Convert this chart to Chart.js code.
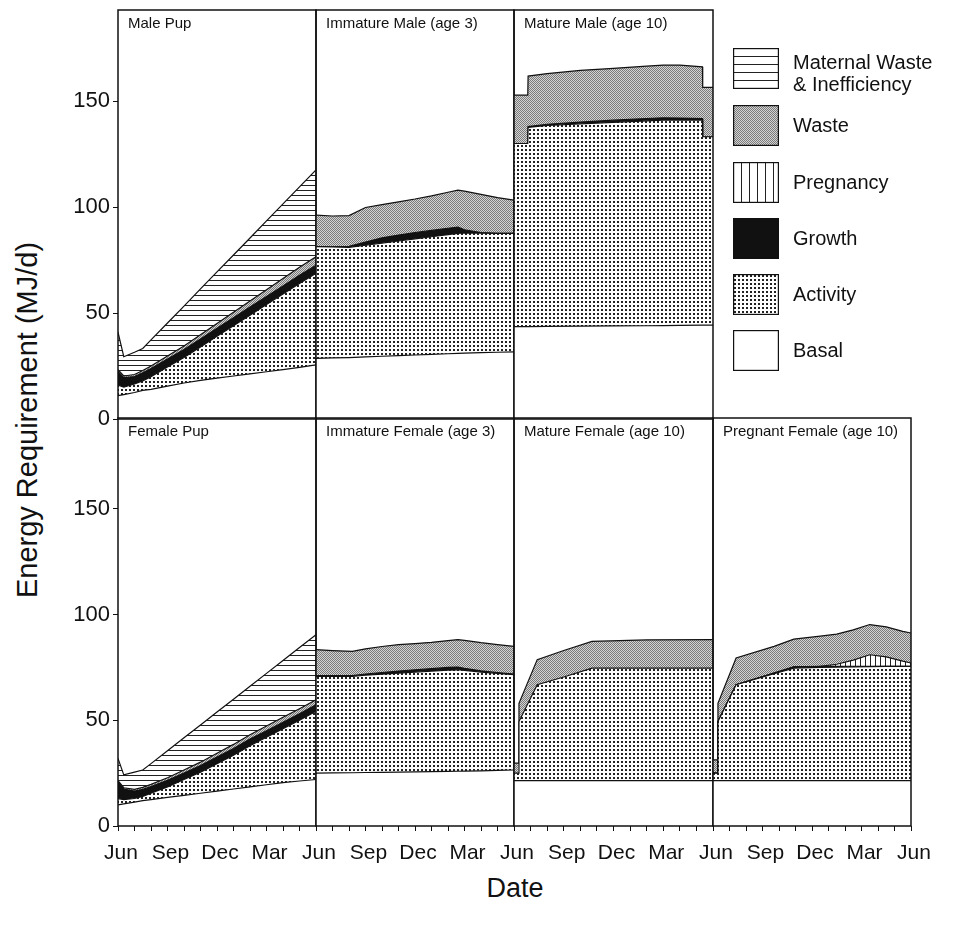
<!DOCTYPE html>
<html>
<head>
<meta charset="utf-8">
<script src="https://cdn.jsdelivr.net/npm/chart.js@4.4.1/dist/chart.umd.min.js"></script>
<style>
  body { margin: 0; background: #fff; font-family: "Liberation Sans", Arial, sans-serif; color: #111; }
  #wrap { position: relative; width: 955px; height: 931px; overflow: hidden; background: #fff; }
  #wrap canvas.panel { position: absolute; left: 0; top: 0; }
  .ptitle { position: absolute; font-size: 15px; white-space: nowrap; line-height: 18px; }
  .ytitle { position: absolute; left: 27px; top: 420px; transform: translate(-50%, -50%) rotate(-90deg); font-size: 29px; white-space: nowrap; }
  .xtitle { position: absolute; left: 515px; top: 888px; transform: translate(-50%, -50%); font-size: 27px; }
  .lgbox { position: absolute; }
  .lgtext { position: absolute; font-size: 20px; line-height: 22px; white-space: nowrap; }
</style>
</head>
<body>
<div id="wrap">
  <div class="ytitle">Energy Requirement (MJ/d)</div>
  <div class="xtitle">Date</div>
</div>
<script>
// month offsets from June (0 = Jun, 12 = next Jun), values in MJ/d per component

// Male Pup
const malePupMonths = [0, 0.35, 1, 1.5, 2, 3, 4, 5, 6, 7, 8, 9, 10, 11, 12];
const malePupBasal = [11, 11.5, 12.5, 13.5, 14, 15.5, 17, 18.2, 19.3, 20.3, 21.3, 22.3, 23.3, 24.4, 25.5];
const malePupActivity = [5, 3.5, 4, 4.5, 6, 9, 12, 15.8, 19.7, 23.7, 27.7, 31.7, 35.7, 39.6, 43.3];
const malePupGrowth = [6.5, 4.5, 3.5, 3.8, 3.8, 3.8, 3.8, 3.8, 3.8, 3.8, 3.8, 3.8, 3.8, 3.8, 3.8];
const malePupWaste = [0.8, 0.8, 1, 1.1, 1.2, 1.4, 1.7, 2, 2.3, 2.6, 2.9, 3.2, 3.5, 3.8, 4];
const malePupMaternal = [17.7, 9.1, 10.5, 10.4, 12.3, 15.6, 18.8, 21.6, 24.3, 27, 29.7, 32.5, 35.2, 37.9, 40.9];

// Immature Male (age 3)
const immMaleMonths = [0, 1, 2, 3, 4, 5, 6, 7, 8, 8.6, 9, 10, 11, 12];
const immMaleBasal = [28.6, 28.8, 29, 29.3, 29.6, 29.9, 30.2, 30.5, 30.8, 31, 31.1, 31.3, 31.5, 31.7];
const immMaleActivity = [52.7, 52.4, 52, 52.7, 53.4, 54.1, 54.8, 55.5, 56.2, 56.6, 56.7, 56.4, 56.1, 55.9];
const immMaleGrowth = [0, 0, 0.5, 1.5, 2.5, 2.8, 3, 3, 3, 3, 1.5, 0.3, 0, 0];
const immMaleWaste = [14.9, 14.6, 14.5, 16.3, 15.7, 15.7, 15.8, 16.3, 17, 17.4, 18.2, 18, 16.9, 15.7];

// Mature Male (age 10)
const matMaleMonths = [0, 0.83, 0.85, 2, 4, 6, 8, 9, 10, 11.36, 11.38, 12];
const matMaleBasal = [43.6, 43.6, 43.6, 43.7, 43.8, 43.9, 44, 44.1, 44.2, 44.3, 44.3, 44.3];
const matMaleActivity = [86.4, 86.4, 94, 94.8, 95.5, 96.1, 96.7, 96.9, 96.8, 96.7, 88.9, 88.9];
const matMaleGrowth = [0, 0, 0.4, 0.6, 0.8, 1, 1.1, 1.1, 1, 0.8, 0, 0];
const matMaleWaste = [22.8, 22.8, 23.8, 23.9, 24.4, 24.5, 24.7, 24.9, 25, 24.4, 23.3, 23.3];

// Female Pup
const femPupMonths = [0, 0.35, 1, 1.5, 2, 3, 4, 5, 6, 7, 8, 9, 10, 11, 12];
const femPupBasal = [10, 10.5, 11.3, 12, 12.5, 13.5, 14.5, 15.5, 16.5, 17.5, 18.5, 19.5, 20.5, 21.3, 22];
const femPupActivity = [3, 2, 1.7, 2, 3, 5, 7.5, 10, 13, 16, 19.5, 22.5, 25.5, 28.7, 32.2];
const femPupGrowth = [8, 5, 3.5, 3.3, 3.2, 3.1, 3.1, 3.1, 3.1, 3.1, 3.1, 3.1, 3.1, 3.1, 3.1];
const femPupWaste = [0.5, 0.6, 0.8, 1, 1, 1.2, 1.4, 1.6, 1.8, 2, 2.1, 2.2, 2.3, 2.4, 2.4];
const femPupMaternal = [10.5, 6.1, 8.2, 8.2, 9.8, 12.8, 15.2, 17.6, 19.5, 21.4, 22.9, 24.9, 26.9, 28.9, 30.8];

// Immature Female (age 3)
const immFemMonths = [0, 1, 2.2, 3, 4, 5, 6, 7, 8, 8.6, 9, 10, 11, 12];
const immFemBasal = [25, 25.1, 25.2, 25.3, 25.4, 25.5, 25.6, 25.7, 25.8, 25.9, 26, 26.1, 26.3, 26.5];
const immFemActivity = [45.8, 45.7, 45.6, 46, 46.4, 46.8, 47.2, 47.5, 47.9, 48, 47.6, 46.7, 45.9, 45.1];
const immFemGrowth = [0.3, 0.3, 0.4, 0.6, 0.8, 1, 1.1, 1.2, 1.3, 1.3, 1, 0.6, 0.4, 0.3];
const immFemWaste = [12.3, 11.9, 11.4, 11.9, 12.3, 12.5, 12.4, 12.5, 12.7, 13, 13.2, 13.3, 13.2, 13.1];

// Mature Female (age 10)
const matFemMonths = [0, 0.25, 0.3, 1.4, 3, 4.7, 8, 12];
const matFemBasal = [21.5, 21.5, 21.5, 21.5, 21.5, 21.5, 21.5, 21.5];
const matFemActivity = [3.5, 3.5, 27.9, 45.3, 49, 53.2, 53.2, 53.2];
const matFemWaste = [4.7, 4.7, 8.6, 11.9, 12.5, 12.6, 13.3, 13.5];

// Pregnant Female (age 10)
const pregFemMonths = [0, 0.25, 0.3, 1.4, 3.7, 4.9, 6.5, 7.5, 8.5, 9.5, 10.5, 11.5, 12];
const pregFemBasal = [21.5, 21.5, 21.5, 21.5, 21.5, 21.5, 21.5, 21.5, 21.5, 21.5, 21.5, 21.5, 21.5];
const pregFemActivity = [3.5, 3.5, 27.9, 45.3, 50.5, 53.2, 53.5, 53.7, 53.8, 53.9, 54, 54, 54];
const pregFemGrowth = [0, 0, 0, 0, 0.3, 0.6, 0.5, 0.3, 0.2, 0.1, 0, 0, 0];
const pregFemPregnancy = [0, 0, 0, 0, 0, 0, 0, 1, 3, 5.5, 4.5, 2.5, 1.6];
const pregFemWaste = [6.3, 6.3, 8.6, 12.7, 12.7, 13.1, 14.3, 14.3, 14.3, 14.3, 14.2, 14.1, 14.2];

// tick labels
const monthTickLabels = ["Jun", "Sep", "Dec", "Mar"];
const yTickStep = 50;
const yMax = 193;

const legendLabels = [
  ["maternal", "Maternal Waste", "& Inefficiency"],
  ["waste", "Waste"],
  ["pregnancy", "Pregnancy"],
  ["growth", "Growth"],
  ["activity", "Activity"],
  ["basal", "Basal"],
];

// page geometry
const ROW_TOP = [10, 418];
const ROW_BOTTOM = [419, 826];
const COL_X = [118, 316, 514, 713, 911];
const W = 955, H = 931;
const FONT = "'Liberation Sans', Arial, sans-serif";

function tile(w, h, draw) {
  const c = document.createElement("canvas");
  c.width = w;
  c.height = h;
  const g = c.getContext("2d");
  g.fillStyle = "#fff";
  g.fillRect(0, 0, w, h);
  draw(g);
  return g.createPattern(c, "repeat");
}

function makeFills(lineGap) {
  return {
    basal: "#fff",
    activity: tile(4, 4, (g) => { g.fillStyle = "#222"; g.fillRect(1, 1, 2, 2); }),
    growth: "#111",
    pregnancy: tile(lineGap, 1, (g) => { g.fillStyle = "#222"; g.fillRect(0, 0, 1, 1); }),
    waste: tile(2, 2, (g) => {
      g.fillStyle = "#d4d4d4"; g.fillRect(0, 0, 2, 2);
      g.fillStyle = "#7a7a7a"; g.fillRect(0, 0, 1, 1); g.fillRect(1, 1, 1, 1);
    }),
    maternal: tile(1, lineGap, (g) => { g.fillStyle = "#222"; g.fillRect(0, 0, 1, 1); }),
  };
}
const fills = makeFills(5);
const legendFills = makeFills(8);

const LAYER_ORDER = ["basal", "activity", "growth", "pregnancy", "waste", "maternal"];

const panels = [
  { title: "Male Pup", row: 0, col: 0, months: malePupMonths,
    layers: { basal: malePupBasal, activity: malePupActivity, growth: malePupGrowth, waste: malePupWaste, maternal: malePupMaternal } },
  { title: "Immature Male (age 3)", row: 0, col: 1, months: immMaleMonths,
    layers: { basal: immMaleBasal, activity: immMaleActivity, growth: immMaleGrowth, waste: immMaleWaste } },
  { title: "Mature Male (age 10)", row: 0, col: 2, months: matMaleMonths,
    layers: { basal: matMaleBasal, activity: matMaleActivity, growth: matMaleGrowth, waste: matMaleWaste } },
  { title: "Female Pup", row: 1, col: 0, months: femPupMonths,
    layers: { basal: femPupBasal, activity: femPupActivity, growth: femPupGrowth, waste: femPupWaste, maternal: femPupMaternal } },
  { title: "Immature Female (age 3)", row: 1, col: 1, months: immFemMonths,
    layers: { basal: immFemBasal, activity: immFemActivity, growth: immFemGrowth, waste: immFemWaste } },
  { title: "Mature Female (age 10)", row: 1, col: 2, months: matFemMonths,
    layers: { basal: matFemBasal, activity: matFemActivity, waste: matFemWaste } },
  { title: "Pregnant Female (age 10)", row: 1, col: 3, months: pregFemMonths,
    layers: { basal: pregFemBasal, activity: pregFemActivity, growth: pregFemGrowth, pregnancy: pregFemPregnancy, waste: pregFemWaste } },
];

// black box round every panel
const framePlugin = {
  id: "frame",
  afterDraw(chart) {
    const { ctx, chartArea: a } = chart;
    ctx.save();
    ctx.strokeStyle = "#111";
    ctx.lineWidth = 1.5;
    ctx.strokeRect(a.left, a.top, a.right - a.left, a.bottom - a.top);
    ctx.restore();
  },
};

const wrap = document.getElementById("wrap");

panels.forEach((p) => {
  const left = COL_X[p.col], right = COL_X[p.col + 1];
  const top = ROW_TOP[p.row], bottom = ROW_BOTTOM[p.row];
  const showY = p.col === 0;
  const showX = p.row === 1;
  const isLast = p.col === 3;
  const yAxisW = 60, xAxisH = 50;

  const canvas = document.createElement("canvas");
  canvas.width = W;
  canvas.height = H;
  canvas.className = "panel";
  wrap.appendChild(canvas);

  const datasets = LAYER_ORDER.filter((k) => p.layers[k]).map((k, i) => ({
    label: k,
    data: p.months.map((m, j) => ({ x: m, y: p.layers[k][j] })),
    backgroundColor: fills[k],
    borderColor: "#111",
    borderWidth: 1.2,
    pointRadius: 0,
    tension: 0,
    fill: i === 0 ? "origin" : "-1",
  }));

  new Chart(canvas, {
    type: "line",
    data: { datasets },
    options: {
      responsive: false,
      animation: false,
      events: [],
      layout: {
        padding: {
          left: showY ? left - yAxisW : left,
          right: W - right,
          top: top,
          bottom: showX ? H - bottom - xAxisH : H - bottom,
        },
      },
      plugins: { legend: { display: false }, tooltip: { enabled: false } },
      scales: {
        x: {
          type: "linear",
          min: 0,
          max: 12,
          display: showX,
          afterFit: (s) => {
            if (!showX) return;
            s.height = xAxisH;
            s.paddingLeft = 0;
            s.paddingRight = 0;
          },
          border: { display: false },
          grid: { drawOnChartArea: false, tickLength: 5, color: "#111", lineWidth: 1 },
          ticks: {
            stepSize: 1,
            autoSkip: false,
            maxRotation: 0,
            padding: 10,
            labelOffset: 3,
            color: "#111",
            font: { family: FONT, size: 21 },
            callback: (v) => {
              if (v % 3 !== 0) return "";
              if (v === 12) return isLast ? monthTickLabels[0] : "";
              return monthTickLabels[v / 3];
            },
          },
        },
        y: {
          stacked: true,
          min: 0,
          max: yMax,
          display: showY,
          afterFit: (s) => {
            if (!showY) return;
            s.width = yAxisW;
            s.paddingTop = 0;
            s.paddingBottom = 0;
          },
          border: { display: false },
          grid: { drawOnChartArea: false, tickLength: 5, color: "#111", lineWidth: 1 },
          ticks: {
            stepSize: yTickStep,
            includeBounds: false,
            padding: 3,
            color: "#111",
            font: { family: FONT, size: 22 },
          },
        },
      },
    },
    plugins: [framePlugin],
  });

  const t = document.createElement("div");
  t.className = "ptitle";
  t.style.left = (left + 10) + "px";
  t.style.top = (top + 4) + "px";
  t.textContent = p.title;
  wrap.appendChild(t);
});

// legend in the empty top-right cell
const lgTop = [48, 105, 162, 218, 274, 330];
legendLabels.forEach((item, i) => {
  const c = document.createElement("canvas");
  c.width = 46;
  c.height = 41;
  c.className = "lgbox";
  c.style.left = "733px";
  c.style.top = lgTop[i] + "px";
  const g = c.getContext("2d");
  g.fillStyle = legendFills[item[0]];
  g.fillRect(0, 0, 46, 41);
  g.strokeStyle = "#111";
  g.lineWidth = 1.2;
  g.strokeRect(0.6, 0.6, 44.8, 39.8);
  wrap.appendChild(c);

  const tx = document.createElement("div");
  tx.className = "lgtext";
  tx.style.left = "793px";
  const lines = item.slice(1);
  tx.style.top = (lgTop[i] + 20 - lines.length * 11 + (lines.length > 1 ? 5 : 0)) + "px";
  tx.innerHTML = lines.join("<br>");
  wrap.appendChild(tx);
});
</script>
</body>
</html>
